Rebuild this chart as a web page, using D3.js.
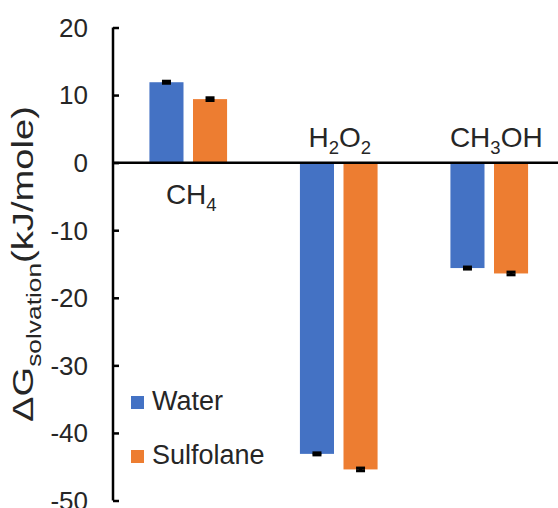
<!DOCTYPE html>
<html>
<head>
<meta charset="utf-8">
<script src="https://cdn.jsdelivr.net/npm/d3@7"></script>
<style>
  body { margin: 0; background: #fff; }
  svg text { font-family: "Liberation Sans", Arial, sans-serif; fill: #262626; }
</style>
</head>
<body>
<div id="chart"></div>
<script>
// data
const categories = ['CH4', 'H2O2', 'CH3OH'];
const seriesNames = ['Water', 'Sulfolane'];
const waterValues = [11.9, -43.1, -15.6];
const sulfolaneValues = [9.4, -45.4, -16.4];
const waterErrors = [0.15, 0.15, 0.15];
const sulfolaneErrors = [0.2, 0.2, 0.2];
const yTicks = [20, 10, 0, -10, -20, -30, -40, -50];
// label parts: [text, isSubscript]
const categoryLabels = [
  [['CH', false], ['4', true]],
  [['H', false], ['2', true], ['O', false], ['2', true]],
  [['CH', false], ['3', true], ['OH', false]],
];

const colors = ['#4472C4', '#ED7D31'];
const width = 558;
const height = 508;

const svg = d3.select('#chart').append('svg')
  .attr('width', width)
  .attr('height', height);

const y = d3.scaleLinear().domain([-50, 20]).range([500.5, 27.5]);
const x0 = d3.scaleBand().domain(categories).range([113, 564.5]);
const x1 = d3.scaleBand().domain(seriesNames)
  .range([0, x0.bandwidth()])
  .paddingInner(0.218)
  .paddingOuter(0.836);

const rows = categories.map((c, i) => ({
  category: c,
  values: [
    { name: 'Water', value: waterValues[i], err: waterErrors[i], color: colors[0] },
    { name: 'Sulfolane', value: sulfolaneValues[i], err: sulfolaneErrors[i], color: colors[1] },
  ],
}));

// bars
const groups = svg.append('g').selectAll('g')
  .data(rows)
  .enter()
  .append('g')
    .attr('transform', d => `translate(${x0(d.category)},0)`);

groups.selectAll('rect')
  .data(d => d.values)
  .enter()
  .append('rect')
    .attr('x', d => x1(d.name))
    .attr('y', d => y(Math.max(0, d.value)))
    .attr('width', x1.bandwidth())
    .attr('height', d => Math.abs(y(d.value) - y(0)))
    .attr('fill', d => d.color);

// error bars
const errG = groups.selectAll('g.err')
  .data(d => d.values)
  .enter()
  .append('g')
    .attr('class', 'err')
    .attr('stroke', '#000')
    .attr('stroke-width', 3);

errG.append('line')
  .attr('x1', d => x1(d.name) + x1.bandwidth() / 2)
  .attr('x2', d => x1(d.name) + x1.bandwidth() / 2)
  .attr('y1', d => y(d.value + d.err))
  .attr('y2', d => y(d.value - d.err));
[1, -1].forEach(s => {
  errG.append('line')
    .attr('x1', d => x1(d.name) + x1.bandwidth() / 2 - 4.5)
    .attr('x2', d => x1(d.name) + x1.bandwidth() / 2 + 4.5)
    .attr('y1', d => y(d.value + s * d.err))
    .attr('y2', d => y(d.value + s * d.err));
});

// y axis
const yAxis = d3.axisRight(y).tickValues(yTicks).tickSize(6).tickFormat('');
const axisG = svg.append('g')
  .attr('transform', 'translate(113,0)')
  .call(yAxis);
axisG.select('.domain').attr('stroke', '#000').attr('stroke-width', 2.5).attr('d', `M0,${y(20)}V${y(-50)}`);
axisG.selectAll('.tick line').attr('stroke', '#000').attr('stroke-width', 2.5);

svg.append('g').selectAll('text')
  .data(yTicks)
  .enter()
  .append('text')
    .attr('x', 88)
    .attr('y', d => y(d))
    .attr('dy', '0.36em')
    .attr('text-anchor', 'end')
    .attr('font-size', 26)
    .text(d => d);

// zero line
svg.append('line')
  .attr('x1', 113)
  .attr('x2', width)
  .attr('y1', y(0))
  .attr('y2', y(0))
  .attr('stroke', '#000')
  .attr('stroke-width', 2.5);

// category labels, CH4 sits below the zero line, the others above
const labelDx = [3, 1, 7];
const labelG = svg.append('g').selectAll('text')
  .data(categoryLabels)
  .enter()
  .append('text')
    .attr('x', (d, i) => x0(categories[i]) + x0.bandwidth() / 2 + labelDx[i])
    .attr('y', (d, i) => (rows[i].values[0].value > 0 ? y(0) + 41 : y(0) - 16))
    .attr('text-anchor', 'middle')
    .attr('font-size', 28);

labelG.selectAll('tspan')
  .data(d => d)
  .enter()
  .append('tspan')
    .attr('font-size', d => (d[1] ? 18.5 : 28))
    .attr('dy', (d, i, nodes) => {
      const prev = i > 0 ? d3.select(nodes[i - 1]).datum()[1] : false;
      if (d[1] && !prev) return 7;
      if (!d[1] && prev) return -7;
      return 0;
    })
    .text(d => d[0]);

// y axis title
const title = svg.append('text')
  .attr('transform', `translate(33,${y(-15)}) rotate(-90)`)
  .attr('text-anchor', 'middle')
  .attr('font-size', 29)
  .attr('textLength', 316)
  .attr('lengthAdjust', 'spacingAndGlyphs');
title.append('tspan').text('ΔG');
title.append('tspan').attr('font-size', 20).attr('dy', 8).text('solvation');
title.append('tspan').attr('dy', -8).text('(kJ/mole)');

// legend
const legend = svg.append('g').selectAll('g')
  .data(seriesNames)
  .enter()
  .append('g')
    .attr('transform', (d, i) => `translate(131,${396 + i * 54})`);
legend.append('rect')
  .attr('width', 13)
  .attr('height', 13)
  .attr('fill', (d, i) => colors[i]);
legend.append('text')
  .attr('x', 21)
  .attr('y', 14)
  .attr('font-size', 27)
  .text(d => d);
</script>
</body>
</html>
